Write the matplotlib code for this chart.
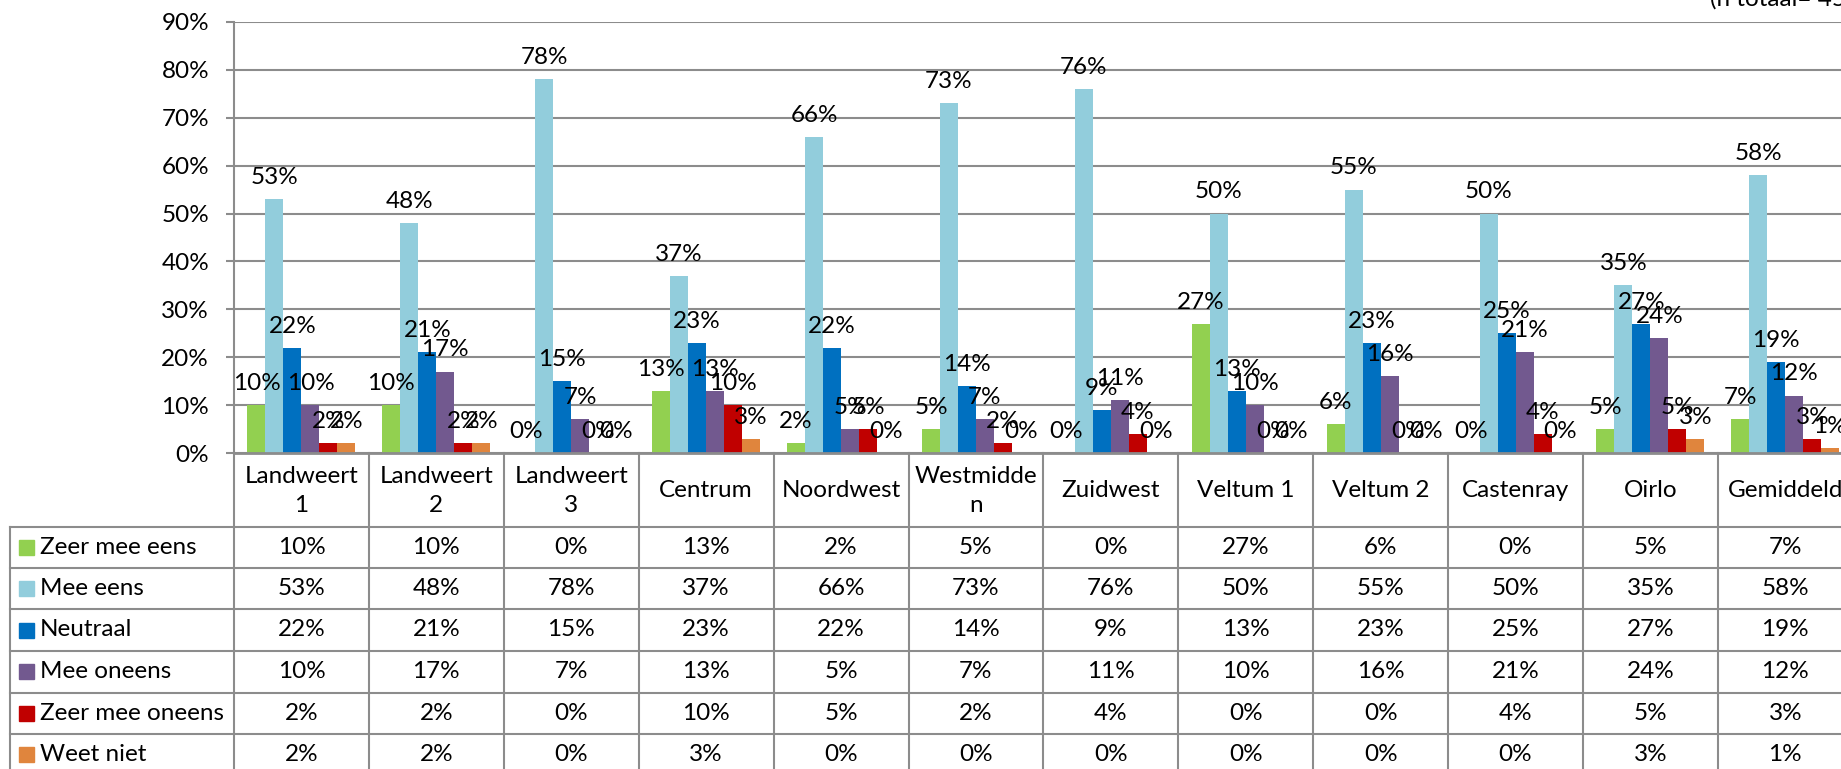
import matplotlib
matplotlib.use("Agg")
import matplotlib.pyplot as plt
import numpy as np

categories = ["Landweert\n1", "Landweert\n2", "Landweert\n3", "Centrum", "Noordwest",
              "Westmidde\nn", "Zuidwest", "Veltum 1", "Veltum 2", "Castenray", "Oirlo", "Gemiddeld"]
series_names = ["Zeer mee eens", "Mee eens", "Neutraal", "Mee oneens", "Zeer mee oneens", "Weet niet"]
zeer_mee_eens = [10, 10, 0, 13, 2, 5, 0, 27, 6, 0, 5, 7]
mee_eens = [53, 48, 78, 37, 66, 73, 76, 50, 55, 50, 35, 58]
neutraal = [22, 21, 15, 23, 22, 14, 9, 13, 23, 25, 27, 19]
mee_oneens = [10, 17, 7, 13, 5, 7, 11, 10, 16, 21, 24, 12]
zeer_mee_oneens = [2, 2, 0, 10, 5, 2, 4, 0, 0, 4, 5, 3]
weet_niet = [2, 2, 0, 3, 0, 0, 0, 0, 0, 0, 3, 1]
yticks = [0, 10, 20, 30, 40, 50, 60, 70, 80, 90]
title_text = "(n totaal= 458)"

series = [zeer_mee_eens, mee_eens, neutraal, mee_oneens, zeer_mee_oneens, weet_niet]
colors = ["#92D050", "#92CDDC", "#0070C0", "#72598F", "#C00000", "#E0853D"]

plt.rcParams['font.family'] = ['Lato', 'DejaVu Sans']
FS = 17.5
GRID = "#8C8C8C"

W, H = 1841, 769
fig = plt.figure(figsize=(W / 100, H / 100), dpi=100)

def fx(px):
    return px / W

def fy(py):
    return 1 - py / H

left_px = 234
colw = 134.9
n = len(categories)
right_px = left_px + n * colw
top_px, base_px = 22, 453

ax = fig.add_axes([fx(left_px), fy(base_px), fx(right_px) - fx(left_px), fy(top_px) - fy(base_px)])
ax.set_xlim(-0.5, n - 0.5)
ax.set_ylim(0, 90)
x = np.arange(n)
bw = 0.8 / 6
for i, (vals, c) in enumerate(zip(series, colors)):
    xs = x - 0.4 + bw * (i + 0.5)
    ax.bar(xs, vals, width=bw, color=c, zorder=3, linewidth=0)
    for xi, v in zip(xs, vals):
        ax.annotate(f"{v}%", (xi, v), xytext=(0, 8), textcoords="offset points",
                    ha="center", va="bottom", fontsize=FS, zorder=5, annotation_clip=False)

ax.set_yticks(yticks)
ax.set_yticklabels([f"{t}%" for t in yticks], fontsize=FS)
ax.yaxis.grid(True, color=GRID, linewidth=1.5, zorder=0)
ax.set_xticks([])
for s in ["top", "right", "bottom"]:
    ax.spines[s].set_visible(False)
ax.spines["left"].set_color(GRID)
ax.spines["left"].set_linewidth(1.5)
ax.tick_params(axis="y", length=6, width=1.5, color=GRID, pad=12)

# table axis
tab_bottom_px = 776
tax = fig.add_axes([fx(left_px), fy(tab_bottom_px), fx(right_px) - fx(left_px), fy(base_px) - fy(tab_bottom_px)])
tax.set_xlim(-0.5, n - 0.5)
tax.set_ylim(tab_bottom_px, base_px)
tax.axis("off")

row_edges = [453, 526.7, 568, 609.3, 650.7, 692.7, 734, 775.3]
lab_left = -0.5 - (left_px - 10) / colw
lw = 1.5
tax.plot([-0.5, n - 0.5], [453, 453], color=GRID, lw=2, clip_on=False)
for y in row_edges[1:]:
    tax.plot([lab_left, n - 0.5], [y, y], color=GRID, lw=lw, clip_on=False)
for k in range(n + 1):
    tax.plot([-0.5 + k, -0.5 + k], [453, tab_bottom_px], color=GRID, lw=lw, clip_on=False)
tax.plot([lab_left, lab_left], [row_edges[1], tab_bottom_px], color=GRID, lw=lw, clip_on=False)

for k, cat in enumerate(categories):
    tax.text(k, (row_edges[0] + row_edges[1]) / 2 + 1, cat, ha="center", va="center",
             fontsize=FS, linespacing=1.45, clip_on=False)

for r, (name, vals, c) in enumerate(zip(series_names, series, colors)):
    yc = (row_edges[r + 1] + row_edges[r + 2]) / 2
    kx = lab_left + 9 / colw
    tax.add_patch(plt.Rectangle((kx, yc - 7.5), 15 / colw, 15, color=c, clip_on=False))
    tax.text(lab_left + 30 / colw, yc, name, ha="left", va="center", fontsize=FS, clip_on=False)
    for k, v in enumerate(vals):
        tax.text(k, yc, f"{v}%", ha="center", va="center", fontsize=FS, clip_on=False)

fig.text(fx(1710), fy(10), title_text, ha="left", va="bottom", fontsize=FS)

fig.savefig("out.png", dpi=100)
